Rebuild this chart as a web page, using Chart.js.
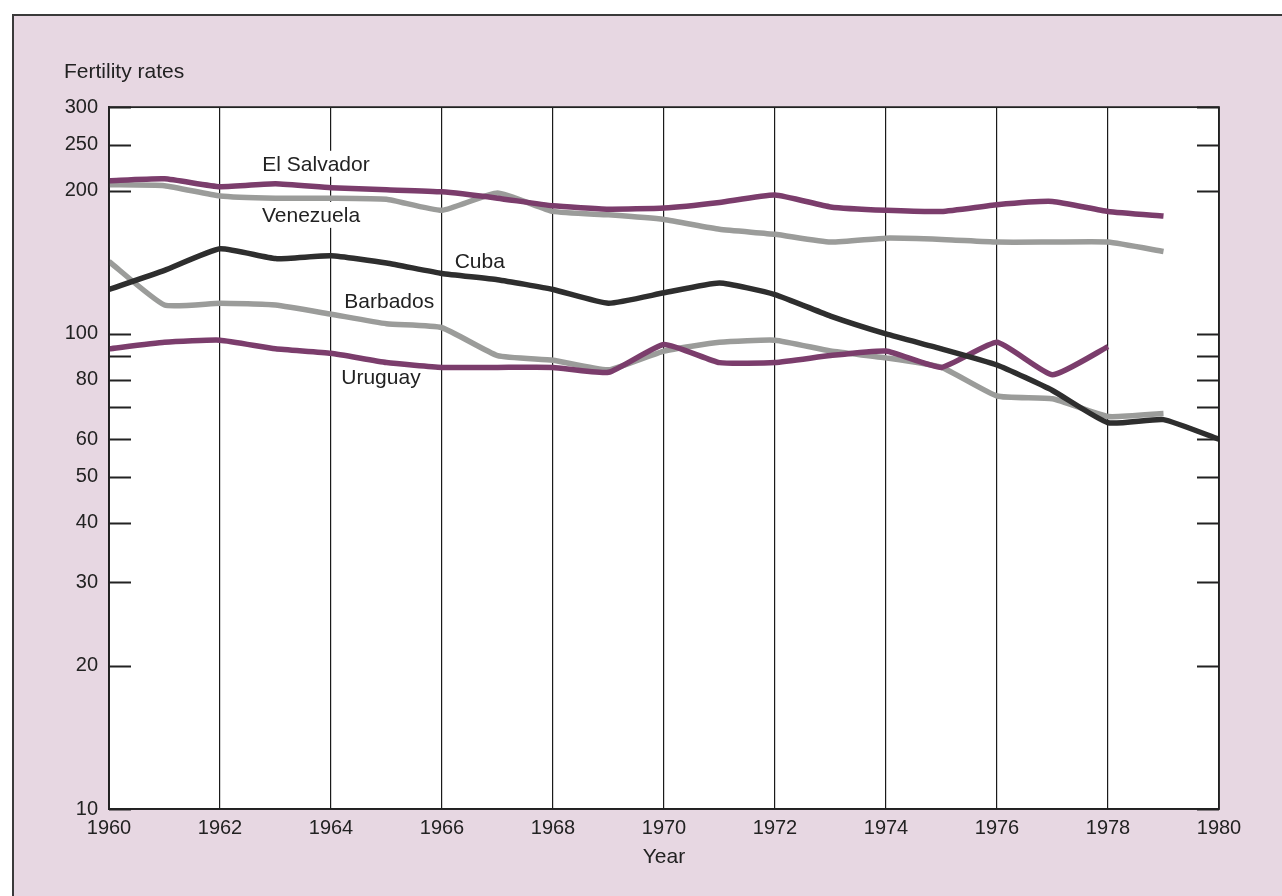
<!DOCTYPE html>
<html>
<head>
<meta charset="utf-8">
<script src="https://cdn.jsdelivr.net/npm/chart.js@4/dist/chart.umd.min.js"></script>
<style>
  html, body { margin: 0; padding: 0; background: #ffffff; }
  #frame {
    position: absolute; left: 12px; top: 14px; right: 0; bottom: 0;
    background: #e7d7e2;
    border-top: 2px solid #3a3a3a;
    border-left: 2px solid #3a3a3a;
  }
  #viz { position: absolute; left: 0; top: 0; }
</style>
</head>
<body>
<div id="frame"></div>
<canvas id="viz" width="1282" height="896"></canvas>
<script>
// values (births per 1,000 women, log scale)
const years = [1960, 1961, 1962, 1963, 1964, 1965, 1966, 1967, 1968, 1969, 1970,
               1971, 1972, 1973, 1974, 1975, 1976, 1977, 1978, 1979, 1980];
const elSalvador = [210, 212, 204, 207, 203, 201, 199, 193, 186, 183, 184,
                    189, 196, 185, 182, 181, 187, 190, 181, 177, null];
const venezuela = [206, 205, 195, 193, 193, 192, 182, 198, 181, 178, 174,
                   166, 162, 156, 159, 158, 156, 156, 156, 149, null];
const cuba = [124, 136, 151, 144, 146, 141, 134, 130, 124, 116, 122,
              128, 121, 109, 100, 93, 86, 76, 65, 66, 60];
const barbados = [142, 115, 116, 115, 110, 105, 103, 90, 88, 84, 92,
                  96, 97, 92, 89, 85, 74, 73, 67, 68, null];
const uruguay = [93, 96, 97, 93, 91, 87, 85, 85, 85, 83, 95,
                 87, 87, 90, 92, 85, 96, 82, 94, null, null];

// y axis tick marks and which of them carry a label
const yTicks = [10, 20, 30, 40, 50, 60, 70, 80, 90, 100, 200, 250, 300];
const yLabels = [10, 20, 30, 40, 50, 60, 80, 100, 200, 250, 300];

const purple = '#7b3d6c';
const grey = '#9b9c9a';
const dark = '#2e2e2e';
const ink = '#222222';
const font = "'Liberation Sans', Arial, Helvetica, sans-serif";

// series names written inside the plot, anchored in data units
const annotations = [
  { text: 'El Salvador', x: 1963.73, y: 228 },
  { text: 'Venezuela', x: 1963.64, y: 178 },
  { text: 'Cuba', x: 1966.68, y: 142.4 },
  { text: 'Barbados', x: 1965.05, y: 117 },
  { text: 'Uruguay', x: 1964.9, y: 81.2 }
];

function pairs(values) {
  return years.map((yr, i) => ({ x: yr, y: values[i] }));
}

function series(label, values, color) {
  return {
    label: label,
    data: pairs(values),
    borderColor: color,
    backgroundColor: color,
    borderWidth: 5.5,
    pointRadius: 0,
    tension: 0.15,
    spanGaps: false
  };
}

const plotDecor = {
  id: 'plotDecor',
  beforeDraw(chart) {
    const { ctx, chartArea: a } = chart;
    ctx.save();
    ctx.fillStyle = '#ffffff';
    ctx.fillRect(a.left, a.top, a.right - a.left, a.bottom - a.top);
    ctx.restore();
  },
  beforeDatasetsDraw(chart) {
    const { ctx, chartArea: a, scales } = chart;
    ctx.save();
    // inward tick marks on both sides
    ctx.strokeStyle = ink;
    ctx.lineWidth = 1.8;
    yTicks.forEach(v => {
      const py = Math.round(scales.y.getPixelForValue(v)) + 0.5;
      ctx.beginPath();
      ctx.moveTo(a.left, py);
      ctx.lineTo(a.left + 22, py);
      ctx.moveTo(a.right - 22, py);
      ctx.lineTo(a.right, py);
      ctx.stroke();
    });
    // series names on white patches
    ctx.font = '21px ' + font;
    ctx.textAlign = 'center';
    ctx.textBaseline = 'middle';
    annotations.forEach(t => {
      const px = scales.x.getPixelForValue(t.x);
      const py = scales.y.getPixelForValue(t.y);
      const w = ctx.measureText(t.text).width;
      ctx.fillStyle = '#ffffff';
      ctx.fillRect(px - w / 2 - 3, py - 13, w + 6, 26);
      ctx.fillStyle = ink;
      ctx.fillText(t.text, px, py + 1);
    });
    ctx.restore();
  },
  afterDatasetsDraw(chart) {
    const { ctx, chartArea: a } = chart;
    ctx.save();
    ctx.strokeStyle = ink;
    ctx.lineWidth = 1.8;
    ctx.strokeRect(a.left, a.top, a.right - a.left, a.bottom - a.top);
    ctx.restore();
  }
};

const ctx = document.getElementById('viz');

new Chart(ctx, {
  type: 'line',
  data: {
    datasets: [
      series('Cuba', cuba, dark),
      series('Uruguay', uruguay, purple),
      series('El Salvador', elSalvador, purple),
      series('Barbados', barbados, grey),
      series('Venezuela', venezuela, grey)
    ]
  },
  options: {
    responsive: false,
    animation: false,
    layout: { padding: { left: 64, right: 63, top: 60, bottom: 0 } },
    plugins: {
      legend: { display: false },
      tooltip: { enabled: false },
      title: {
        display: true,
        text: 'Fertility rates',
        align: 'start',
        color: ink,
        font: { family: font, size: 21, weight: 'normal', lineHeight: 1.15 },
        padding: { top: 0, bottom: 23 }
      }
    },
    scales: {
      x: {
        type: 'linear',
        min: 1960,
        max: 1980,
        afterFit: scale => { scale.height = 87; },
        ticks: {
          stepSize: 2,
          color: ink,
          padding: 7,
          font: { family: font, size: 20 },
          callback: v => String(v)
        },
        grid: { color: '#1a1a1a', lineWidth: 1.2, drawTicks: false },
        border: { display: true, color: ink, width: 1.8 },
        title: {
          display: true,
          text: 'Year',
          color: ink,
          font: { family: font, size: 21 },
          padding: { top: 4, bottom: 26 }
        }
      },
      y: {
        type: 'logarithmic',
        min: 10,
        max: 300,
        afterFit: scale => { scale.width = 45; },
        afterBuildTicks: scale => { scale.ticks = yTicks.map(v => ({ value: v })); },
        ticks: {
          autoSkip: false,
          color: ink,
          padding: 11,
          font: { family: font, size: 20 },
          callback: v => (yLabels.includes(v) ? String(v) : '')
        },
        grid: { display: false, drawTicks: false },
        border: { display: true, color: ink, width: 1.8 }
      }
    }
  },
  plugins: [plotDecor]
});
</script>
</body>
</html>
